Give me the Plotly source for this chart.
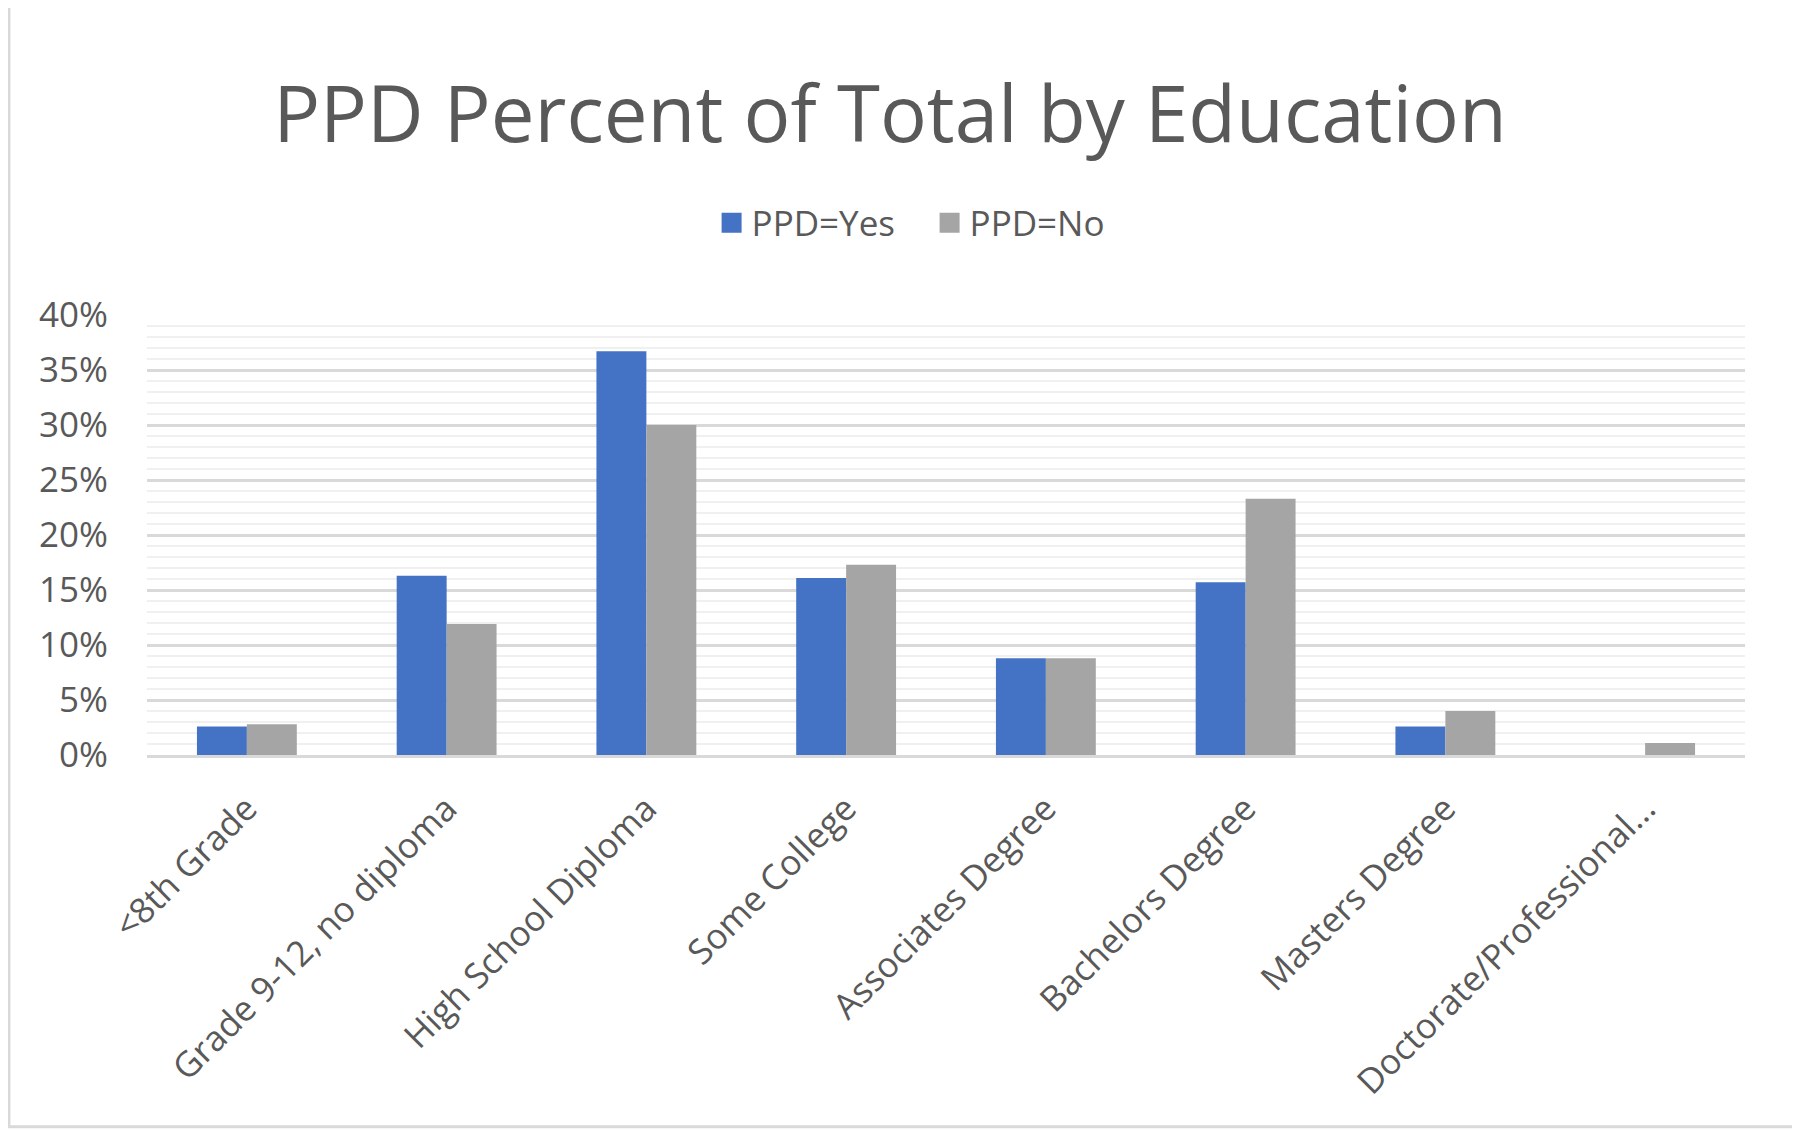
import plotly.graph_objects as go

# Education categories and share of each PPD group (fractions)
categories = [
    "<8th Grade",
    "Grade 9-12, no diploma",
    "High School Diploma",
    "Some College",
    "Associates Degree",
    "Bachelors Degree",
    "Masters Degree",
    "Doctorate/Professional...",
]
ppd_yes = [0.026, 0.163, 0.367, 0.161, 0.088, 0.157, 0.026, 0.0]
ppd_no = [0.028, 0.119, 0.300, 0.173, 0.088, 0.233, 0.040, 0.011]

series_names = ["PPD=Yes", "PPD=No"]
series_colors = ["#4472C4", "#A5A5A5"]

text_color = "#595959"
font_family = "Open Sans, Noto Sans, sans-serif"

fig = go.Figure()
for name, values, color in zip(series_names, [ppd_yes, ppd_no], series_colors):
    fig.add_trace(go.Bar(
        x=categories,
        y=values,
        name=name,
        marker_color=color,
        marker_line_width=0,
        showlegend=False,
        hovertemplate="%{x}<br>" + name + ": %{y:.1%}<extra></extra>",
    ))
    # legend-only entry with a larger square swatch
    fig.add_trace(go.Scatter(
        x=[None], y=[None],
        mode="markers",
        name=name,
        marker=dict(symbol="square", size=16, color=color,
                    line=dict(color=color, width=4)),
        hoverinfo="skip",
    ))

# the page adds an 8px body margin, so margins are shifted to compensate
fig.update_layout(
    width=1800,
    height=1134,
    margin=dict(l=139, r=63, t=307, b=387),
    paper_bgcolor="white",
    plot_bgcolor="white",
    barmode="group",
    bargap=0.5,
    bargroupgap=0,
    font=dict(family=font_family, color=text_color, size=34),
    title=dict(
        text="PPD Percent of Total by Education",
        xref="container", x=0.49, xanchor="center",
        yref="container", y=0.9056, yanchor="middle",
        font=dict(size=78, color=text_color),
    ),
    legend=dict(
        orientation="h",
        xref="container", x=0.512, xanchor="center",
        yref="container", y=0.8104, yanchor="middle",
        font=dict(size=35, color=text_color),
        itemsizing="trace",
        itemwidth=30,
        entrywidth=173,
        entrywidthmode="pixels",
        tracegroupgap=0,
    ),
    showlegend=True,
)

fig.update_yaxes(
    range=[0, 0.4],
    dtick=0.05,
    tickformat=".0%",
    showgrid=True,
    gridcolor="#D9D9D9",
    gridwidth=3,
    minor=dict(dtick=0.01, showgrid=True, gridcolor="#F0F0F0", gridwidth=2),
    zeroline=False,
    showline=False,
    ticks="",
    ticklabelstandoff=38,
    tickfont=dict(size=35, color=text_color),
)

fig.update_xaxes(
    tickangle=-45,
    showline=True,
    linecolor="#D9D9D9",
    linewidth=3,
    ticks="",
    showgrid=False,
    ticklabelstandoff=16,
    tickfont=dict(size=35, color=text_color),
)

# light outer chart border
fig.add_shape(
    type="rect", xref="paper", yref="paper",
    x0=-0.0864, x1=1.032, y0=-0.845, y1=1.702,
    line=dict(color="#D9D9D9", width=3),
    fillcolor="rgba(0,0,0,0)",
    layer="below",
)

fig.write_html("out.html")
